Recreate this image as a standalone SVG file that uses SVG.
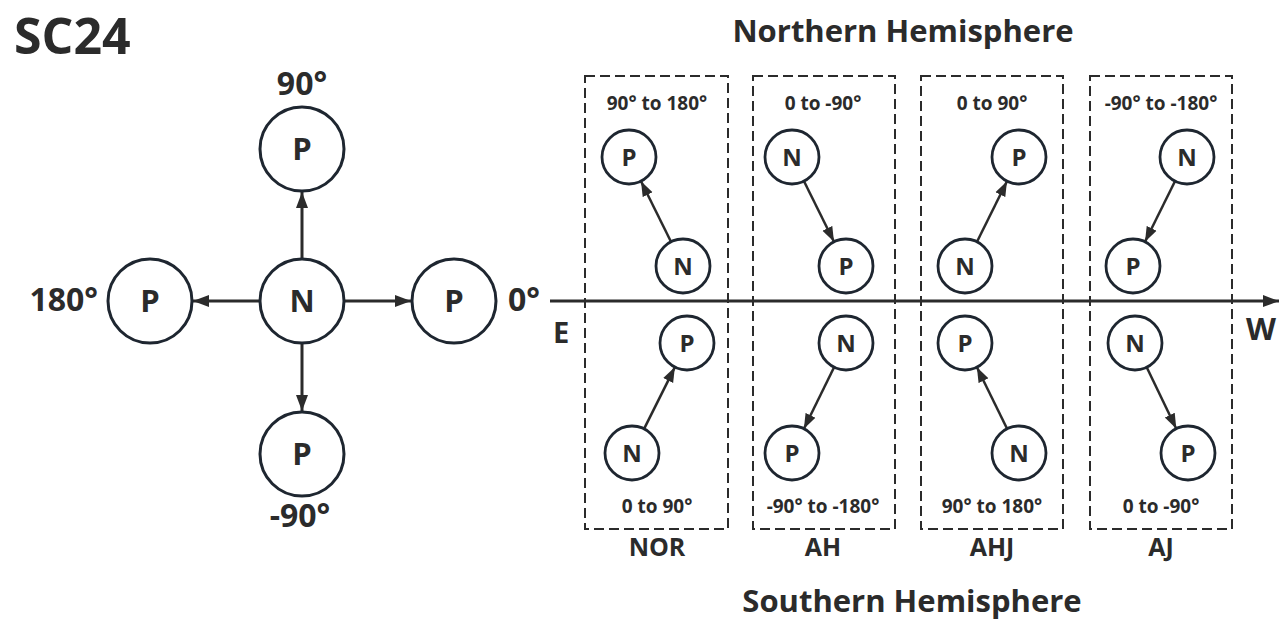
<svg xmlns="http://www.w3.org/2000/svg" width="1280" height="623" viewBox="0 0 1280 623">
<style>
text{font-family:"Open Sans","Noto Sans","Liberation Sans",sans-serif;font-weight:700;fill:#2b2b2b;text-anchor:middle}
.big circle{fill:#fff;stroke:#1e2630;stroke-width:3}
.sm circle{fill:#fff;stroke:#1e2630;stroke-width:2.8}
.big text{font-size:31px}
.sm text{font-size:24px}
.deg{font-size:32px}
.rng{font-size:19px}
.lab{font-size:25px}
.hd{font-size:31px}
.box{fill:none;stroke:#2b2b2b;stroke-width:2;stroke-dasharray:10 5}
.cb{stroke:#2b2b2b;stroke-width:3;fill:none}
.cs{stroke:#2b2b2b;stroke-width:2.5;fill:none}
</style>
<defs>
<marker id="ab" markerUnits="userSpaceOnUse" markerWidth="16" markerHeight="14" viewBox="0 0 16 14" refX="16" refY="7" orient="auto"><path d="M0,1 L16,7 L0,13 Z" fill="#2b2b2b"/></marker>
<marker id="as" markerUnits="userSpaceOnUse" markerWidth="15" markerHeight="13" viewBox="0 0 15 13" refX="15" refY="6.5" orient="auto"><path d="M0,1 L15,6.5 L0,12 Z" fill="#2b2b2b"/></marker>
</defs>
<rect width="1280" height="623" fill="#fff"/>
<text x="14" y="54" style="font-size:50px;text-anchor:start">SC24</text>
<text class="deg" x="302" y="95">90°</text>
<text class="deg" x="98" y="311" style="text-anchor:end">180°</text>
<text class="deg" x="508" y="311" style="text-anchor:start">0°</text>
<text class="deg" x="300" y="527">-90°</text>
<text class="hd" x="903" y="42">Northern Hemisphere</text>
<text class="hd" x="912" y="612">Southern Hemisphere</text>
<text x="561" y="343" style="font-size:29px">E</text>
<text x="1261" y="340" style="font-size:31px">W</text>
<g id="boxes">
<rect class="box" x="585" y="76" width="143" height="453"/>
<rect class="box" x="753" y="76" width="142" height="453"/>
<rect class="box" x="921" y="76" width="142" height="453"/>
<rect class="box" x="1090" y="76" width="142" height="453"/>
<text class="rng" x="657" y="110">90° to 180°</text>
<text class="rng" x="823" y="110">0 to -90°</text>
<text class="rng" x="992" y="110">0 to 90°</text>
<text class="rng" x="1161" y="110">-90° to -180°</text>
<text class="rng" x="657" y="513">0 to 90°</text>
<text class="rng" x="823" y="513">-90° to -180°</text>
<text class="rng" x="992" y="513">90° to 180°</text>
<text class="rng" x="1161" y="513">0 to -90°</text>
<text class="lab" x="657" y="556">NOR</text>
<text class="lab" x="823" y="556">AH</text>
<text class="lab" x="992" y="556">AHJ</text>
<text class="lab" x="1161" y="556">AJ</text>
</g>
<g id="connectors">
<line class="cb" x1="550" y1="301" x2="1279" y2="301" marker-end="url(#ab)"/>
<line class="cb" x1="302" y1="259" x2="302" y2="192" marker-end="url(#ab)"/>
<line class="cb" x1="260" y1="301" x2="193" y2="301" marker-end="url(#ab)"/>
<line class="cb" x1="344" y1="301" x2="411" y2="301" marker-end="url(#ab)"/>
<line class="cb" x1="302" y1="343" x2="302" y2="411" marker-end="url(#ab)"/>
<line class="cs" x1="671" y1="241.8" x2="641" y2="181.2" marker-end="url(#as)"/>
<line class="cs" x1="804" y1="181.2" x2="834" y2="241.8" marker-end="url(#as)"/>
<line class="cs" x1="977" y1="241.8" x2="1007" y2="181.2" marker-end="url(#as)"/>
<line class="cs" x1="1175" y1="181.2" x2="1145" y2="241.8" marker-end="url(#as)"/>
<line class="cs" x1="644.1" y1="428.9" x2="674.9" y2="367.1" marker-end="url(#as)"/>
<line class="cs" x1="834.1" y1="367.2" x2="803.9" y2="428.8" marker-end="url(#as)"/>
<line class="cs" x1="1007.1" y1="428.8" x2="976.9" y2="367.2" marker-end="url(#as)"/>
<line class="cs" x1="1146.7" y1="367.3" x2="1176.3" y2="428.7" marker-end="url(#as)"/>
</g>
<g id="n-center" class="big"><circle cx="302" cy="301" r="42"/><text x="302" y="312">N</text></g>
<g id="p-90" class="big"><circle cx="302" cy="149" r="42"/><text x="302" y="160">P</text></g>
<g id="p-180" class="big"><circle cx="150" cy="301" r="42"/><text x="150" y="312">P</text></g>
<g id="p-0" class="big"><circle cx="454" cy="301" r="42"/><text x="454" y="312">P</text></g>
<g id="p-m90" class="big"><circle cx="302" cy="454" r="42"/><text x="302" y="465">P</text></g>
<g id="nor-n-top" class="sm"><circle cx="683" cy="266" r="27"/><text x="683" y="274.5">N</text></g>
<g id="nor-p-top" class="sm"><circle cx="629" cy="157" r="27"/><text x="629" y="165.5">P</text></g>
<g id="ah-n-top" class="sm"><circle cx="792" cy="157" r="27"/><text x="792" y="165.5">N</text></g>
<g id="ah-p-top" class="sm"><circle cx="846" cy="266" r="27"/><text x="846" y="274.5">P</text></g>
<g id="ahj-n-top" class="sm"><circle cx="965" cy="266" r="27"/><text x="965" y="274.5">N</text></g>
<g id="ahj-p-top" class="sm"><circle cx="1019" cy="157" r="27"/><text x="1019" y="165.5">P</text></g>
<g id="aj-n-top" class="sm"><circle cx="1187" cy="157" r="27"/><text x="1187" y="165.5">N</text></g>
<g id="aj-p-top" class="sm"><circle cx="1133" cy="266" r="27"/><text x="1133" y="274.5">P</text></g>
<g id="nor-n-bot" class="sm"><circle cx="632" cy="453" r="27"/><text x="632" y="461.5">N</text></g>
<g id="nor-p-bot" class="sm"><circle cx="687" cy="343" r="27"/><text x="687" y="351.5">P</text></g>
<g id="ah-n-bot" class="sm"><circle cx="846" cy="343" r="27"/><text x="846" y="351.5">N</text></g>
<g id="ah-p-bot" class="sm"><circle cx="792" cy="453" r="27"/><text x="792" y="461.5">P</text></g>
<g id="ahj-n-bot" class="sm"><circle cx="1019" cy="453" r="27"/><text x="1019" y="461.5">N</text></g>
<g id="ahj-p-bot" class="sm"><circle cx="965" cy="343" r="27"/><text x="965" y="351.5">P</text></g>
<g id="aj-n-bot" class="sm"><circle cx="1135" cy="343" r="27"/><text x="1135" y="351.5">N</text></g>
<g id="aj-p-bot" class="sm"><circle cx="1188" cy="453" r="27"/><text x="1188" y="461.5">P</text></g>
</svg>
